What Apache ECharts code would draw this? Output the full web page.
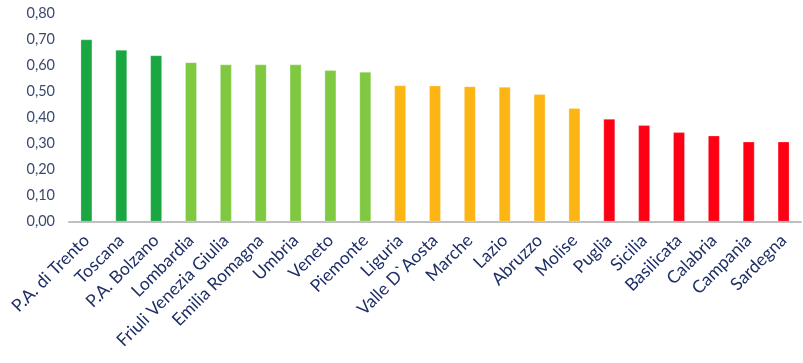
<!DOCTYPE html>
<html><head><meta charset="utf-8">
<script src="https://cdn.jsdelivr.net/npm/echarts@6/dist/echarts.min.js"></script>
<style>html,body{margin:0;padding:0;background:#fff}#c{width:803px;height:363px}</style>
</head><body><div id="c"></div>
<script>
const categories = ["P.A. di Trento","Toscana","P.A. Bolzano","Lombardia","Friuli Venezia Giulia","Emilia Romagna","Umbria","Veneto","Piemonte","Liguria","Valle D`Aosta","Marche","Lazio","Abruzzo","Molise","Puglia","Sicilia","Basilicata","Calabria","Campania","Sardegna"];
const values = [0.698,0.658,0.637,0.610,0.602,0.602,0.602,0.580,0.574,0.522,0.521,0.518,0.516,0.488,0.435,0.393,0.369,0.342,0.329,0.306,0.306];
const groups = ["dg","dg","dg","lg","lg","lg","lg","lg","lg","or","or","or","or","or","or","rd","rd","rd","rd","rd","rd"];
const palette = {dg:"#1aa641", lg:"#7fc940", or:"#fdb514", rd:"#fe0013"};

const chart = echarts.init(document.getElementById('c'));
chart.setOption({
  animation:false,
  grid:{left:69,right:2,top:13,bottom:141.5},
  xAxis:{type:'category',data:categories,
    axisLine:{lineStyle:{color:'#bfbfbf',width:2}},
    axisTick:{show:false},
    axisLabel:{rotate:45,interval:0,color:'#1f2f66',fontFamily:'Lato',fontSize:17.5,margin:16}},
  yAxis:{type:'value',min:0,max:0.8,interval:0.1,
    axisLine:{show:false},axisTick:{show:false},splitLine:{show:false},
    axisLabel:{color:'#3b4a6e',fontFamily:'Lato',fontSize:14.5,margin:14,
      formatter:v=>v.toFixed(2).replace('.',',')}},
  series:[{type:'bar',barWidth:11.5,
    data:values.map((v,i)=>({value:v,itemStyle:{color:palette[groups[i]]}})),
    itemStyle:{borderColor:'rgba(255,255,255,0.5)',borderWidth:0.5}}]
});
</script></body></html>
